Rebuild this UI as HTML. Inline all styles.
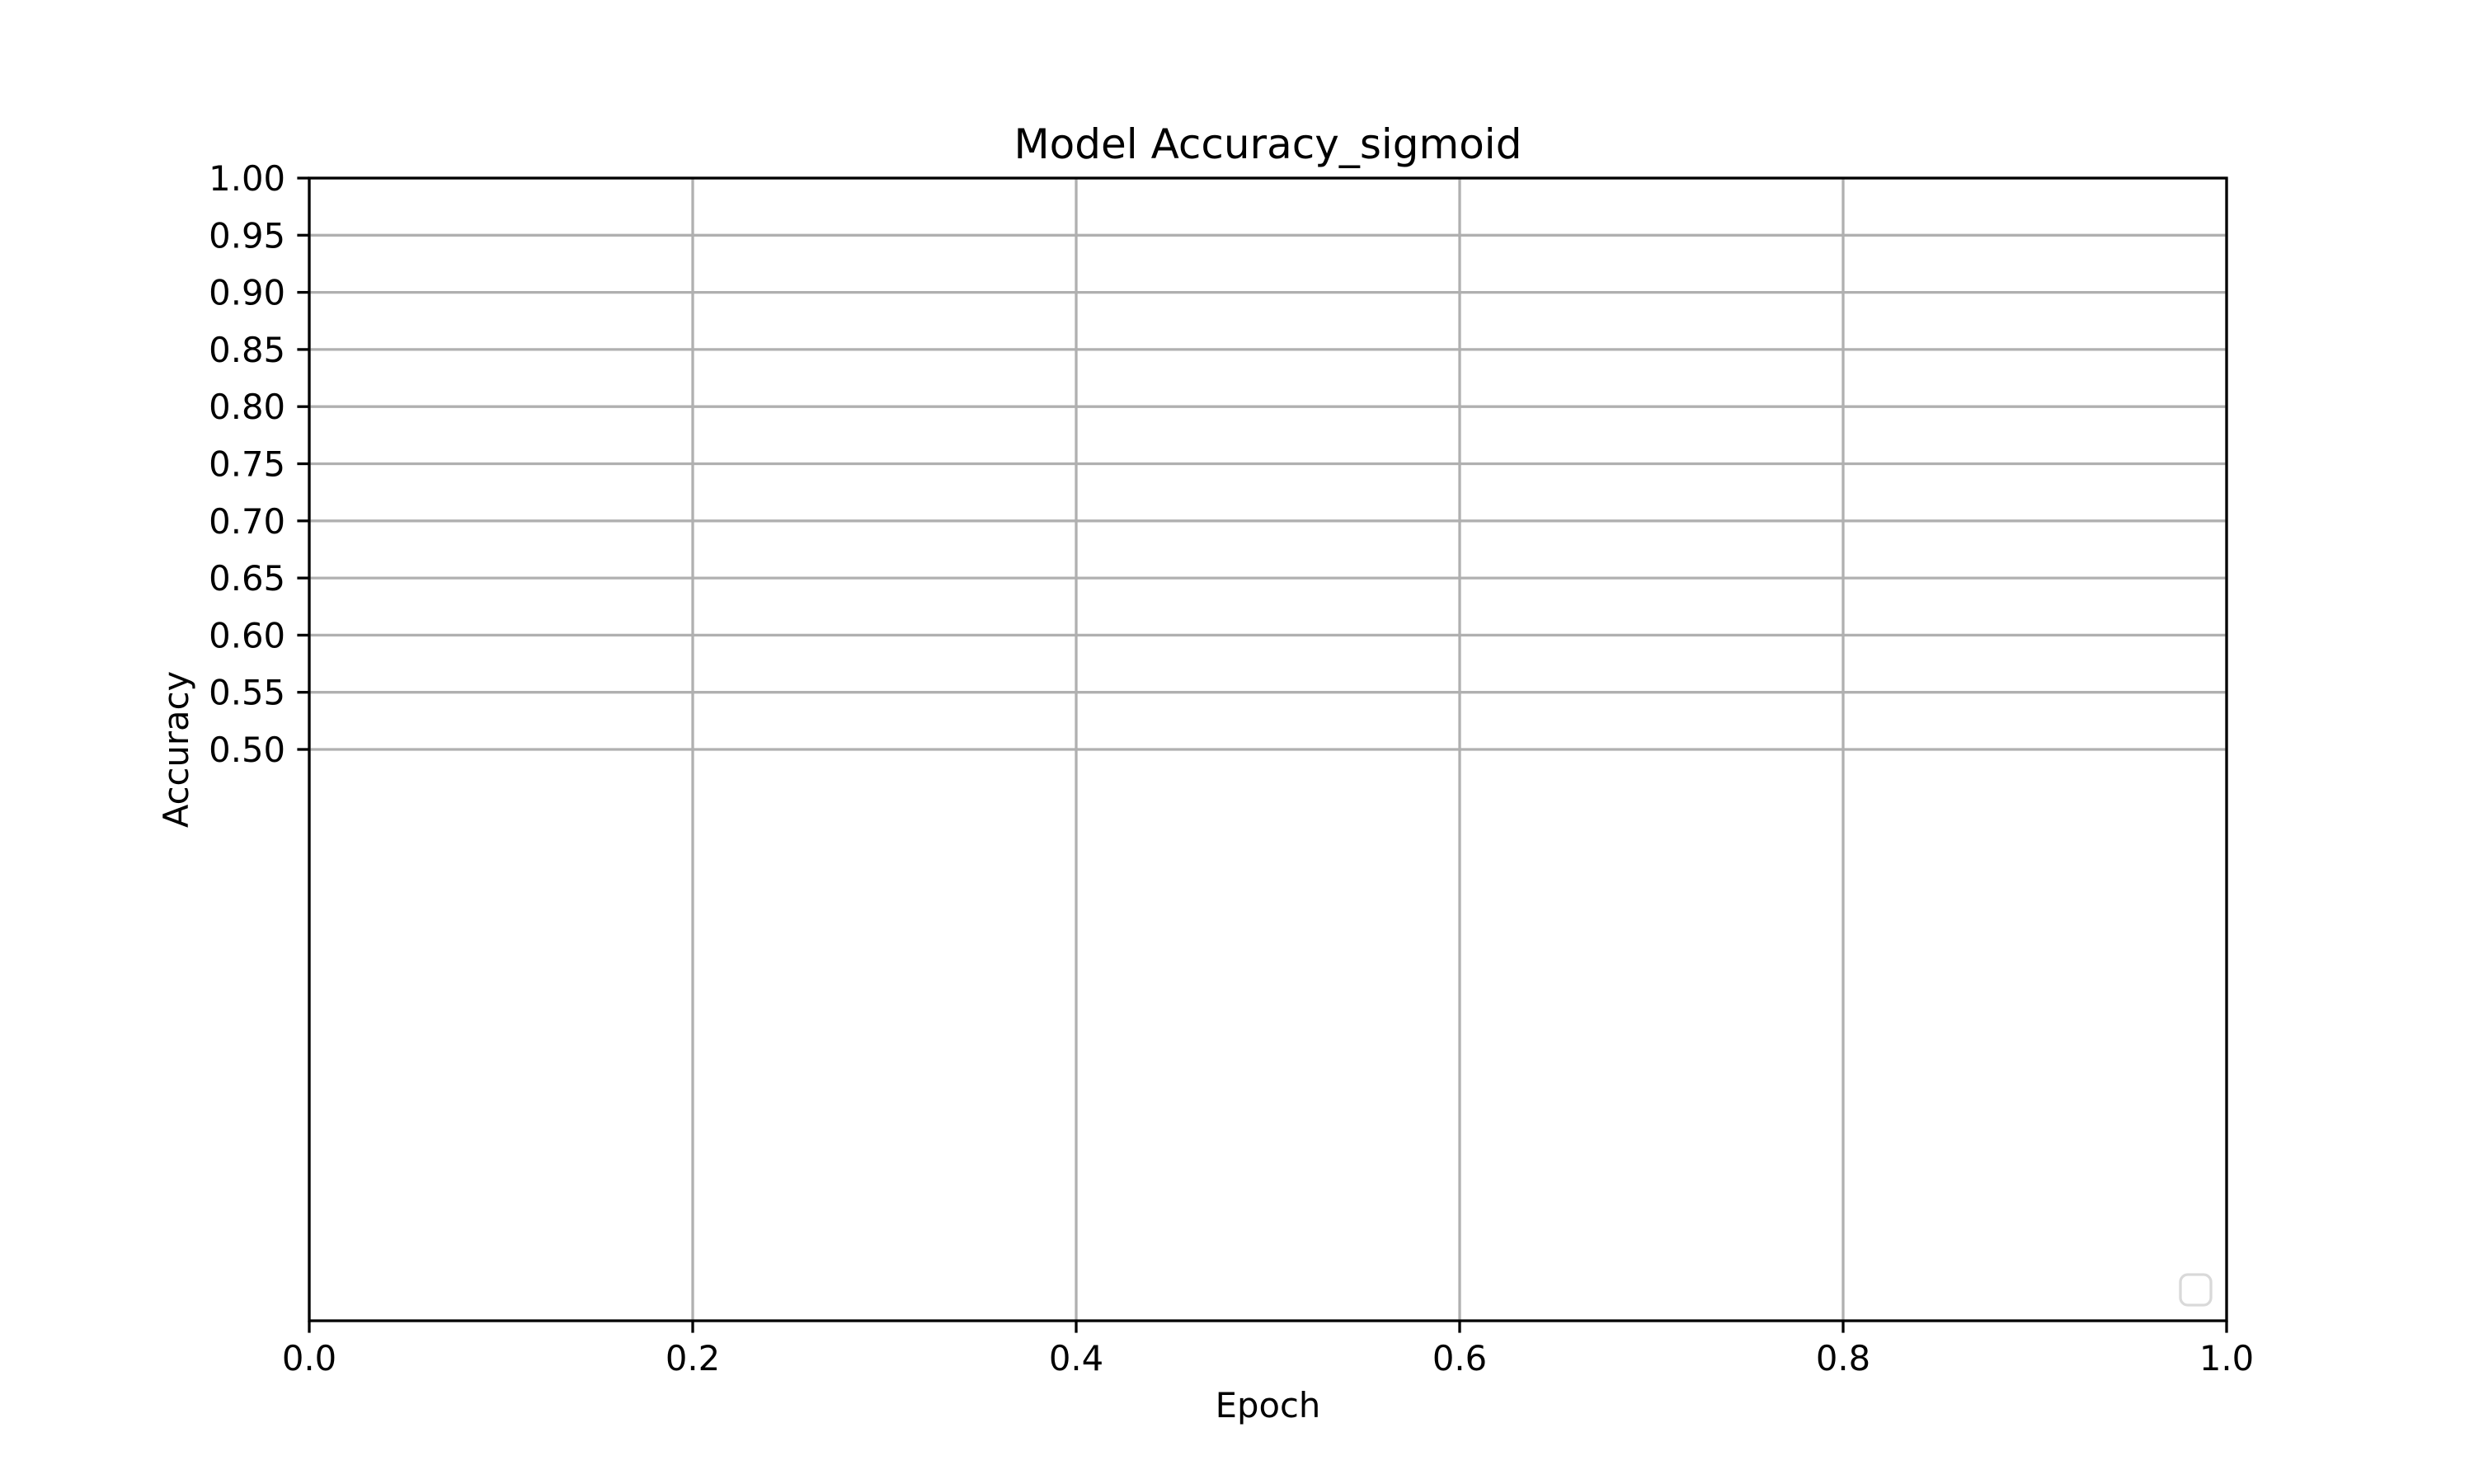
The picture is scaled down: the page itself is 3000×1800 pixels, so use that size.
<!DOCTYPE html>
<html>
<head>
<meta charset="utf-8">
<style>
  html,body{margin:0;padding:0;background:#fff;}
  svg{display:block;font-family:"DejaVu Sans","Liberation Sans",sans-serif;}
</style>
</head>
<body>
<svg id="chart" width="3000" height="1800" viewBox="0 0 3000 1800" xmlns="http://www.w3.org/2000/svg">
  <rect x="0" y="0" width="3000" height="1800" fill="#fff"/>
  <g id="grid"></g>
  <g id="ticks"></g>
  <rect x="375" y="216" width="2325" height="1386" fill="none" stroke="#000" stroke-width="3.3"/>
  <rect x="2644" y="1546" width="37" height="37" rx="9" fill="#fff" stroke="#d9d9d9" stroke-width="3.3"/>
  <text x="1537.5" y="192" font-size="50" text-anchor="middle" fill="#000">Model Accuracy_sigmoid</text>
  <text x="1537.5" y="1719" font-size="41.7" text-anchor="middle" fill="#000">Epoch</text>
  <text x="0" y="0" font-size="41.7" text-anchor="middle" fill="#000" transform="translate(228,909) rotate(-90)">Accuracy</text>
</svg>
<script>
const xTicks = [0.0, 0.2, 0.4, 0.6, 0.8, 1.0];
const xTickLabels = ["0.0", "0.2", "0.4", "0.6", "0.8", "1.0"];
const yTicks = [0.50, 0.55, 0.60, 0.65, 0.70, 0.75, 0.80, 0.85, 0.90, 0.95, 1.00];
const yTickLabels = ["0.50", "0.55", "0.60", "0.65", "0.70", "0.75", "0.80", "0.85", "0.90", "0.95", "1.00"];
const xDomain = [0, 1];
const yDomain = [0, 1];

const L = 375, R = 2700, T = 216, B = 1602;
const NS = "http://www.w3.org/2000/svg";
function xScale(v){ return L + (v - xDomain[0]) / (xDomain[1] - xDomain[0]) * (R - L); }
function yScale(v){ return B - (v - yDomain[0]) / (yDomain[1] - yDomain[0]) * (B - T); }
function mk(tag, attrs){ const e = document.createElementNS(NS, tag); for (const k in attrs) e.setAttribute(k, attrs[k]); return e; }

const grid = document.getElementById('grid');
const ticks = document.getElementById('ticks');

xTicks.forEach((v, i) => {
  const x = xScale(v);
  const g = mk('line', {x1:x, x2:x, y1:T, y2:B, stroke:'#b0b0b0', 'stroke-width':3.3});
  
  
  grid.appendChild(g);
  const t = mk('line', {x1:x, x2:x, y1:B, y2:B + 14.6, stroke:'#000', 'stroke-width':3.3});
  
  
  ticks.appendChild(t);
  const lb = mk('text', {x:x, y:B + 60, 'font-size':41.7, 'text-anchor':'middle', fill:'#000'});
  lb.textContent = xTickLabels[i];
  
  
  ticks.appendChild(lb);
});

yTicks.forEach((v, i) => {
  const y = yScale(v);
  const g = mk('line', {x1:L, x2:R, y1:y, y2:y, stroke:'#b0b0b0', 'stroke-width':3.3});
  
  
  grid.appendChild(g);
  const t = mk('line', {x1:L - 14.6, x2:L, y1:y, y2:y, stroke:'#000', 'stroke-width':3.3});
  
  
  ticks.appendChild(t);
  const lb = mk('text', {x:L - 29, y:y + 15, 'font-size':41.7, 'text-anchor':'end', fill:'#000'});
  lb.textContent = yTickLabels[i];
  
  
  ticks.appendChild(lb);
});
</script>
</body>
</html>
